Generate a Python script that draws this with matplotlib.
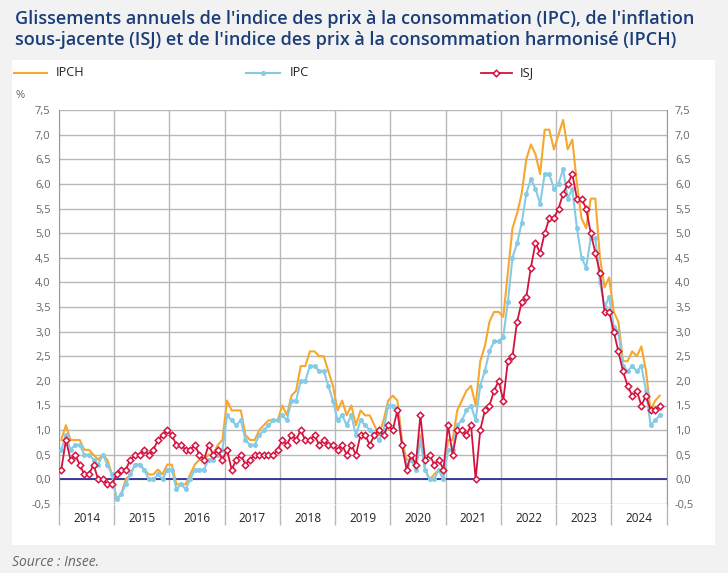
import numpy as np
import matplotlib
matplotlib.use("Agg")
import matplotlib.pyplot as plt
from matplotlib.lines import Line2D
from matplotlib.patches import Rectangle

plt.rcParams['font.family'] = ['Open Sans', 'DejaVu Sans']

# glissements annuels, janvier 2014 -> novembre 2024 (%)
annees = list(range(2014, 2025))

ipch = [0.8, 1.1, 0.8, 0.8, 0.8, 0.6, 0.6, 0.5, 0.4, 0.5, 0.4, 0.1,
        -0.4, -0.3, 0.0, 0.1, 0.3, 0.3, 0.2, 0.1, 0.1, 0.2, 0.1, 0.3,
        0.3, -0.1, -0.1, -0.1, 0.1, 0.3, 0.4, 0.4, 0.5, 0.5, 0.7, 0.8,
        1.6, 1.4, 1.4, 1.4, 0.9, 0.8, 0.8, 1.0, 1.1, 1.2, 1.2, 1.2,
        1.5, 1.3, 1.7, 1.8, 2.3, 2.3, 2.6, 2.6, 2.5, 2.5, 2.2, 1.9,
        1.4, 1.6, 1.3, 1.5, 1.1, 1.4, 1.3, 1.3, 1.1, 0.9, 1.2, 1.6,
        1.7, 1.6, 0.8, 0.4, 0.4, 0.2, 0.9, 0.2, 0.0, 0.1, 0.2, 0.0,
        0.8, 0.8, 1.4, 1.6, 1.8, 1.9, 1.5, 2.4, 2.7, 3.2, 3.4, 3.4,
        3.3, 4.2, 5.1, 5.4, 5.8, 6.5, 6.8, 6.6, 6.2, 7.1, 7.1, 6.7,
        7.0, 7.3, 6.7, 6.9, 6.0, 5.3, 5.1, 5.7, 5.7, 4.5, 3.9, 4.1,
        3.4, 3.2, 2.4, 2.4, 2.6, 2.5, 2.7, 2.2, 1.4, 1.6, 1.7]

ipc = [0.6, 0.9, 0.6, 0.7, 0.7, 0.5, 0.5, 0.4, 0.3, 0.5, 0.3, 0.1,
       -0.4, -0.3, -0.1, 0.1, 0.3, 0.3, 0.2, 0.0, 0.0, 0.1, 0.0, 0.2,
       0.2, -0.2, -0.1, -0.2, 0.0, 0.2, 0.2, 0.2, 0.4, 0.4, 0.5, 0.6,
       1.3, 1.2, 1.1, 1.2, 0.8, 0.7, 0.7, 0.9, 1.0, 1.1, 1.2, 1.2,
       1.3, 1.2, 1.6, 1.6, 2.0, 2.0, 2.3, 2.3, 2.2, 2.2, 1.9, 1.6,
       1.2, 1.3, 1.1, 1.3, 0.9, 1.2, 1.1, 1.0, 0.9, 0.8, 1.0, 1.5,
       1.5, 1.4, 0.7, 0.3, 0.4, 0.2, 0.8, 0.2, 0.0, 0.0, 0.2, 0.0,
       0.6, 0.6, 1.1, 1.2, 1.4, 1.5, 1.2, 1.9, 2.2, 2.6, 2.8, 2.8,
       2.9, 3.6, 4.5, 4.8, 5.2, 5.8, 6.1, 5.9, 5.6, 6.2, 6.2, 5.9,
       6.0, 6.3, 5.7, 5.9, 5.1, 4.5, 4.3, 4.9, 4.9, 4.0, 3.5, 3.7,
       3.1, 3.0, 2.3, 2.2, 2.3, 2.2, 2.3, 1.8, 1.1, 1.2, 1.3]

isj = [0.2, 0.8, 0.4, 0.5, 0.3, 0.1, 0.1, 0.3, 0.0, 0.0, -0.1, -0.1,
       0.1, 0.2, 0.2, 0.4, 0.5, 0.5, 0.6, 0.5, 0.6, 0.8, 0.9, 1.0,
       0.9, 0.7, 0.7, 0.6, 0.6, 0.7, 0.5, 0.4, 0.7, 0.5, 0.6, 0.4,
       0.6, 0.2, 0.4, 0.5, 0.3, 0.4, 0.5, 0.5, 0.5, 0.5, 0.5, 0.6,
       0.8, 0.7, 0.9, 0.8, 1.0, 0.8, 0.8, 0.9, 0.7, 0.8, 0.7, 0.7,
       0.6, 0.7, 0.5, 0.7, 0.5, 0.9, 0.9, 0.7, 0.9, 1.0, 0.9, 1.1,
       1.0, 1.4, 0.7, 0.2, 0.5, 0.3, 1.3, 0.4, 0.5, 0.3, 0.4, 0.2,
       1.1, 0.5, 1.0, 1.0, 0.9, 1.1, 0.0, 1.0, 1.4, 1.5, 1.8, 2.0,
       1.6, 2.4, 2.5, 3.2, 3.6, 3.7, 4.3, 4.8, 4.6, 5.0, 5.3, 5.3,
       5.5, 5.8, 6.0, 6.2, 5.7, 5.7, 5.5, 5.0, 4.6, 4.2, 3.4, 3.4,
       3.0, 2.6, 2.2, 1.9, 1.7, 1.8, 1.5, 1.7, 1.4, 1.4, 1.5]

y_ticks = np.arange(-0.5, 7.51, 0.5)

# couleurs
c_ipch = '#f5a72e'
c_ipc = '#86cbe6'
c_isj = '#d4123f'
c_titre = '#1b3d78'
c_grille = '#b8b8b8'

# position des points : milieu de chaque mois
x = 2014 + (np.arange(len(ipc)) + 0.5) / 12

fig = plt.figure(figsize=(7.28, 5.73), dpi=100, facecolor='#f2f2f2')

# panneau blanc
fig.add_artist(Rectangle((12 / 728, 1 - 545 / 573), (715 - 12) / 728, (545 - 60) / 573,
                         transform=fig.transFigure, facecolor='white', edgecolor='none', zorder=0))

ax = fig.add_axes([59 / 728, 1 - 504 / 573, (666.7 - 59) / 728, (504 - 110) / 573])
ax.set_facecolor('none')

ax.plot(x, ipch, color=c_ipch, lw=1.5, zorder=3)
ax.plot(x, ipc, color=c_ipc, lw=1.5, marker='o', ms=2.6, zorder=4)
ax.plot(x, isj, color=c_isj, lw=1.3, marker='D', ms=3.3, mfc='white', mec=c_isj, mew=1.1, zorder=5)

ax.axhline(0, color='#23238f', lw=1.2, zorder=2)

ax.set_xlim(2014, 2025)
ax.set_ylim(-0.5, 7.5)

# grille
ax.set_yticks(y_ticks)
ax.set_yticklabels([f'{v:.1f}'.replace('.', ',') for v in y_ticks])
ax.yaxis.grid(True, color=c_grille, lw=1)
ax.set_xticks(range(2014, 2026))
ax.set_xticklabels([])
ax.xaxis.grid(True, color=c_grille, lw=1)
ax.set_xticks([a + 0.5 for a in annees], minor=True)
ax.set_xticklabels([str(a) for a in annees], minor=True)
ax.tick_params(axis='x', which='major', length=15, width=1, color=c_grille, direction='out')
ax.tick_params(axis='x', which='minor', length=0, pad=6, labelsize=8.5, labelcolor='#222222')
ax.tick_params(axis='y', length=0, labelsize=8, labelcolor='#666666', pad=6,
               left=True, right=True, labelleft=True, labelright=True)
for s in ['top', 'bottom']:
    ax.spines[s].set_visible(False)
for s in ['left', 'right']:
    ax.spines[s].set_color('#9a9a9a')
ax.set_axisbelow(True)

# titre
fig.text(15 / 728, 1 - 10 / 573,
         "Glissements annuels de l'indice des prix à la consommation (IPC), de l'inflation\n"
         "sous-jacente (ISJ) et de l'indice des prix à la consommation harmonisé (IPCH)",
         fontsize=13, color=c_titre, fontweight='semibold', va='top', ha='left', linespacing=1.2)

# légende
ly = 1 - 73 / 573
fig.add_artist(Line2D([14 / 728, 47 / 728], [ly, ly], color=c_ipch, lw=1.5))
fig.text(56 / 728, ly, 'IPCH', fontsize=9.2, va='center', color='#222222')
fig.add_artist(Line2D([246 / 728, 280 / 728], [ly, ly], color=c_ipc, lw=1.5))
fig.add_artist(Line2D([263 / 728], [ly], color=c_ipc, marker='o', ms=2.6))
fig.text(290 / 728, ly, 'IPC', fontsize=9.2, va='center', color='#222222')
fig.add_artist(Line2D([481 / 728, 512 / 728], [ly, ly], color=c_isj, lw=1.3))
fig.add_artist(Line2D([496 / 728], [ly], color=c_isj, marker='D', ms=3.3, mfc='white', mew=1.1))
fig.text(520 / 728, ly, 'ISJ', fontsize=9.2, va='center', color='#222222')

fig.text(16 / 728, 1 - 96 / 573, '%', fontsize=8, va='center', color='#666666')

fig.text(12 / 728, 1 - 562 / 573, 'Source : Insee.', fontsize=10, style='italic',
         va='center', color='#666666')

fig.savefig('out.png', dpi=100, facecolor=fig.get_facecolor())
